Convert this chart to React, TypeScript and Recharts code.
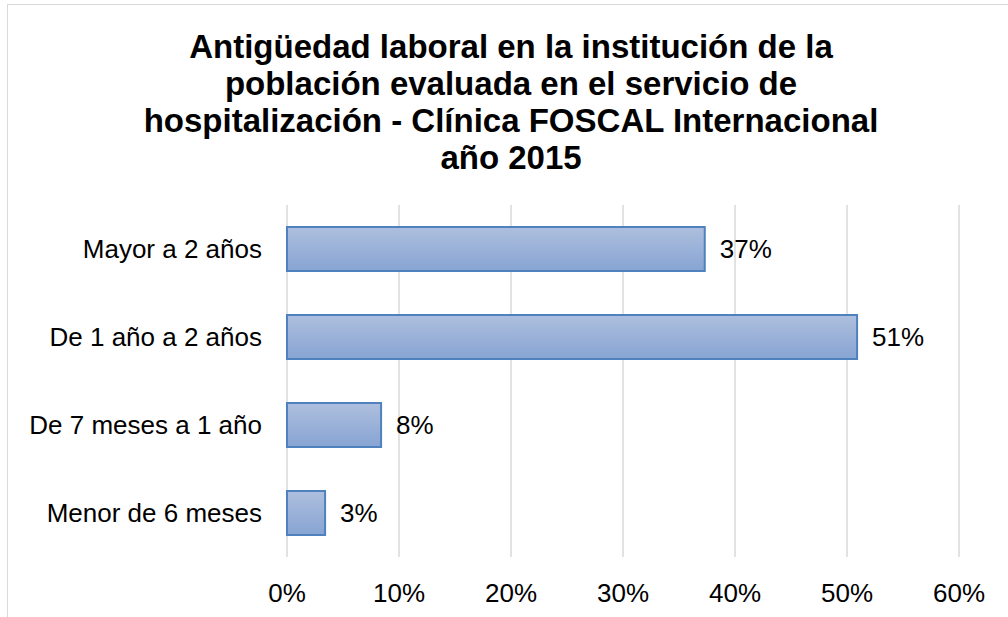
import React from "react";
import { BarChart, Bar, XAxis, YAxis, CartesianGrid, LabelList } from "recharts";

const categories = ["Mayor a 2 años", "De 1 año a 2 años", "De 7 meses a 1 año", "Menor de 6 meses"];
const values = [0.373, 0.509, 0.084, 0.034];
const xTicks = [0, 0.1, 0.2, 0.3, 0.4, 0.5, 0.6];
const titleLines = [
  "Antigüedad laboral en la institución de la",
  "población evaluada en el servicio de",
  "hospitalización - Clínica FOSCAL Internacional",
  "año 2015",
];

const data = categories.map((c, i) => ({ name: c, value: values[i] }));
const FONT = '"Liberation Sans", Arial, sans-serif';
const pct = (v: any) => `${Math.round(Number(v) * 100)}%`;

export default function App() {
  return (
    <div style={{ position: "absolute", left: 0, top: 0, width: 1008, height: 617, overflow: "hidden", background: "#fff", fontFamily: FONT }}>
      <svg width={0} height={0} style={{ position: "absolute" }}>
        <defs>
          <linearGradient id="barGrad" x1="0" y1="0" x2="0" y2="1">
            <stop offset="0%" stopColor="#aebfde" />
            <stop offset="100%" stopColor="#87a4d3" />
          </linearGradient>
        </defs>
      </svg>
      <div style={{ position: "absolute", left: 7, top: 4, width: 1020, height: 630, border: "1.5px solid #d9d9d9", boxSizing: "border-box" }} />
      <div style={{ position: "absolute", left: 0, top: 28, width: 1022, textAlign: "center", fontSize: 33, fontWeight: "bold", lineHeight: "37px", color: "#000" }}>
        {titleLines.map((l, i) => (
          <div key={i}>{l}</div>
        ))}
      </div>
      <div style={{ position: "absolute", left: 0, top: 0 }}>
        <BarChart
          width={1008}
          height={617}
          data={data}
          layout="vertical"
          margin={{ top: 205, right: 49, bottom: 0, left: 0 }}
          barSize={44}
        >
          <CartesianGrid horizontal={false} vertical={true} stroke="#d9d9d9" strokeWidth={1.5} />
          <XAxis
            type="number"
            dataKey="value"
            domain={[0, 0.6]}
            ticks={xTicks}
            tickFormatter={pct}
            axisLine={false}
            tickLine={false}
            tickMargin={21}
            height={60}
            tick={{ fill: "#000", fontSize: 26, fontFamily: FONT }}
          />
          <YAxis
            type="category"
            dataKey="name"
            width={287}
            axisLine={false}
            tickLine={false}
            tickSize={0}
            tickMargin={25}
            interval={0}
            tick={{ fill: "#000", fontSize: 26, fontFamily: FONT }}
          />
          <Bar dataKey="value" fill="url(#barGrad)" stroke="#4f81bd" strokeWidth={2} isAnimationActive={false}>
            <LabelList dataKey="value" position="right" offset={15} formatter={pct} fill="#000" fontSize={26} fontFamily={FONT} />
          </Bar>
        </BarChart>
      </div>
    </div>
  );
}
